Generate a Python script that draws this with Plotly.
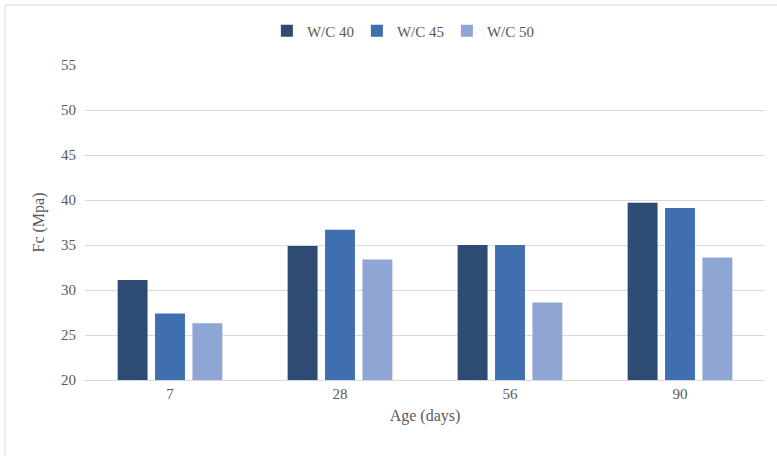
import plotly.graph_objects as go

ages = ["7", "28", "56", "90"]
wc40 = [31.1, 34.9, 35.0, 39.7]
wc45 = [27.4, 36.7, 35.0, 39.1]
wc50 = [26.3, 33.4, 28.6, 33.6]
series_names = ["W/C 40", "W/C 45", "W/C 50"]
colors = ["#2D4B73", "#3F6FAE", "#8FA5D3"]

fig = go.Figure()
for name, vals, c in zip(series_names, [wc40, wc45, wc50], colors):
    fig.add_trace(go.Bar(x=ages, y=vals, name=name, marker_color=c,
                         marker_line_width=0))

font_family = "Liberation Serif"
fig.update_layout(
    width=777, height=456,
    margin=dict(l=85, r=12, t=65, b=76, autoexpand=False),
    paper_bgcolor="white", plot_bgcolor="white",
    barmode="group", bargap=0.34, bargroupgap=0.2,
    font=dict(family=font_family, size=15, color="#595959"),
    legend=dict(orientation="h", x=0.466, xanchor="center",
                yref="container", y=0.932, yanchor="middle",
                font=dict(size=15, color="#595959"), itemwidth=30,
                entrywidth=45, entrywidthmode="pixels",
                traceorder="normal"),
    xaxis=dict(title=dict(text="Age (days)", standoff=8, font=dict(size=16)),
               showgrid=False, showline=True, linecolor="#D9D9D9", linewidth=1,
               ticks="", tickfont=dict(size=15)),
    yaxis=dict(title=dict(text="Fc (Mpa)", standoff=12, font=dict(size=16)),
               range=[20, 55], dtick=5, showgrid=True, gridcolor="#D9D9D9",
               gridwidth=1, zeroline=False, ticks="", ticklabelstandoff=8,
               tickfont=dict(size=15)),
    shapes=[dict(type="rect", xref="paper", yref="paper",
                 x0=-0.1176, x1=1.2, y0=-0.5, y1=1.1905,
                 line=dict(color="#D9D9D9", width=1), fillcolor="rgba(0,0,0,0)",
                 layer="below")],
)

fig.write_html("out.html")
